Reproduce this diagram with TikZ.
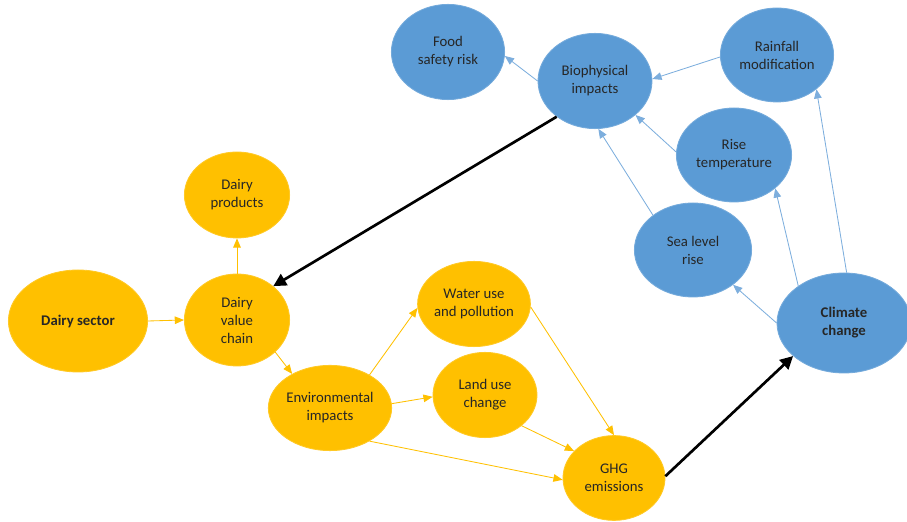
\documentclass[tikz,border=0pt]{standalone}
\usepackage{fontspec}
\setmainfont{Carlito}
\usepackage{xcolor}
\usepackage{tikz}
\usetikzlibrary{arrows.meta,shapes.geometric}
\definecolor{cblue}{HTML}{5B9BD5}
\definecolor{cblueln}{HTML}{7DAEDD}
\definecolor{cyell}{HTML}{FFC000}
\definecolor{ctext}{HTML}{262626}

\begin{document}
\begin{tikzpicture}[
    barr/.style={-{Triangle[length=2.3mm,width=1.9mm]}, line width=0.6pt, cblueln},
    yarr/.style={-{Triangle[length=2.3mm,width=1.9mm]}, line width=0.6pt, cyell},
    karr/.style={-{Triangle[length=3.2mm,width=3.2mm]}, line width=1.9pt, black},
    bnode/.style={
        ellipse, fill=cblue, draw=cblue!85!white, line width=0.6pt, inner sep=0pt,
        align=center, text=ctext, font=\fontsize{10.5}{12.8}\selectfont
    },
    ynode/.style={
        ellipse, fill=cyell, draw=cyell!85!white, line width=0.6pt, inner sep=0pt,
        align=center, text=ctext, font=\fontsize{10.5}{12.8}\selectfont
    }
]
\useasboundingbox (0,0) rectangle (22.675,13.05);

% ---------------- Climate side ----------------
\node[bnode, minimum width=2.83cm, minimum height=2.38cm] (food)    at (11.20,11.75)  {Food\\safety risk};
\node[bnode, minimum width=2.85cm, minimum height=2.38cm] (bio)     at (14.875,11.025) {Biophysical\\impacts};
\node[bnode, minimum width=2.83cm, minimum height=2.35cm] (rain)    at (19.425,11.675) {Rainfall\\modification};
\node[bnode, minimum width=2.88cm, minimum height=2.35cm] (temp)    at (18.35,9.175)   {Rise\\temperature};
\node[bnode, minimum width=2.93cm, minimum height=2.35cm] (sea)     at (17.325,6.80)   {Sea level\\rise};
\node[bnode, minimum width=3.35cm, minimum height=2.50cm, font=\fontsize{10.5}{12.8}\selectfont\bfseries] (climate) at (21.10,4.975) {Climate\\change};

\draw[barr] (bio.180) -- (food.-4);
\draw[barr] (rain.182) -- (bio.2);
\draw[barr] (temp.177) -- (bio.-40);
\draw[barr] (sea.139) -- (bio.-86);
\draw[barr] (climate.180) -- (sea.-41);
\draw[barr] (climate.141) -- (temp.-39);
\draw[barr] (climate.87) -- (rain.-41);

% ---------------- Dairy side ----------------
\node[ynode, minimum width=3.48cm, minimum height=2.55cm, font=\fontsize{10.5}{12.8}\selectfont\bfseries] (sector) at (1.95,5.025) {Dairy sector};
\node[ynode, minimum width=2.63cm, minimum height=2.15cm] (products) at (5.925,8.175) {Dairy\\products};
\node[ynode, minimum width=2.63cm, minimum height=2.30cm] (chain)    at (5.925,5.05)  {Dairy\\value\\chain};
\node[ynode, minimum width=2.60cm, minimum height=2.13cm] (env)      at (8.25,2.85)   {Environmental\\impacts};
\node[ynode, minimum width=2.63cm, minimum height=2.13cm] (water)    at (11.85,5.45)  {Water use\\and pollution};
\node[ynode, minimum width=2.60cm, minimum height=2.13cm] (land)     at (12.125,3.175) {Land use\\change};
\node[ynode, minimum width=2.55cm, minimum height=2.12cm] (ghg)      at (15.35,1.10)  {GHG\\emissions};

\draw[yarr] (sector.east) -- (chain.west);
\draw[yarr] (chain.north) -- (products.south);
\draw[yarr] (chain.-40) -- (env.138);
\draw[yarr] (env.40) -- (water.184);
\draw[yarr] (env.4) -- (land.182);
\draw[yarr] (env.-40) -- (ghg.182);
\draw[yarr] (water.-3) -- (ghg.90);
\draw[yarr] (land.-40) -- (ghg.146);

% ---------------- Links between the two ----------------
\draw[karr] (bio.223) -- (chain.43);
\draw[karr] (ghg.2) -- (climate.213);

\end{tikzpicture}
\end{document}
